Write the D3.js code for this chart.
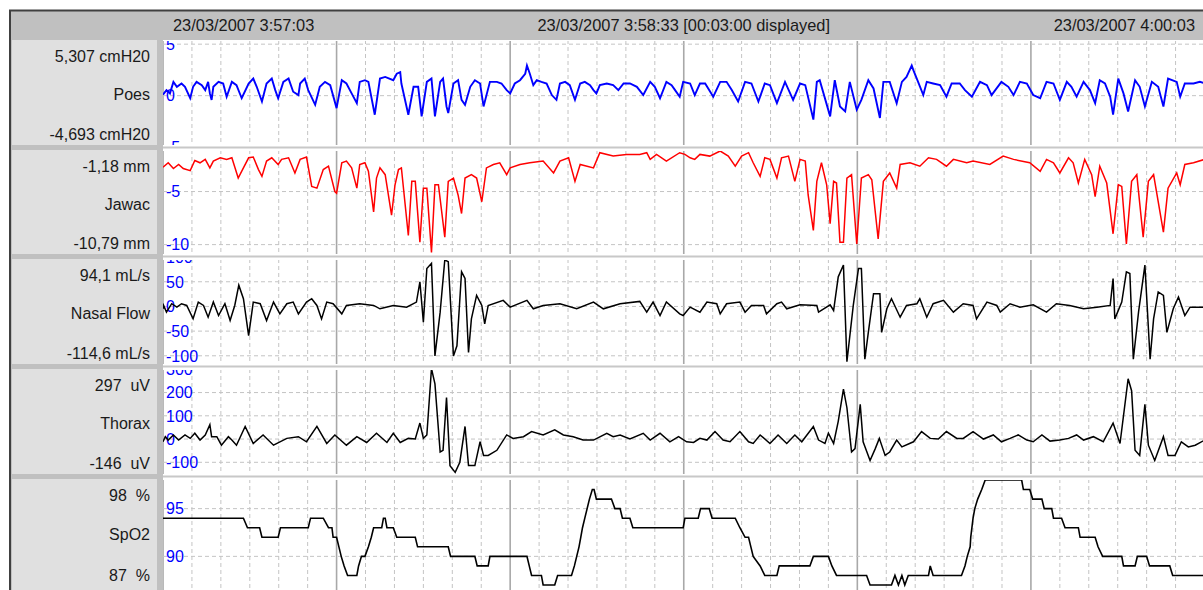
<!DOCTYPE html>
<html><head><meta charset="utf-8">
<script src="https://cdn.jsdelivr.net/npm/d3@7"></script>
<style>
body{margin:0;background:#fff;}
svg{display:block;font-family:"Liberation Sans",Arial,sans-serif;}
</style></head><body>
<svg id="c" width="1203" height="590"></svg>
<script>
// ---------- data ----------
const headerLabels = ["23/03/2007 3:57:03", "23/03/2007 3:58:33 [00:03:00 displayed]", "23/03/2007 4:00:03"];
const headerTimes = [0, 90, 180];
const channels = ["Poes", "Jawac", "Nasal Flow", "Thorax", "SpO2"];
const topLabels = ["5,307 cmH20", "-1,18 mm", "94,1 mL/s", "297  uV", "98  %"];
const bottomLabels = ["-4,693 cmH20", "-10,79 mm", "-114,6 mL/s", "-146  uV", "87  %"];
const domains = [[-4.693, 5.307], [-10.79, -1.18], [-114.6, 94.1], [-146, 297], [87, 98]];
const tickValues = [[5, 0, -5], [-5, -10], [100, 50, 0, -50, -100], [300, 200, 100, 0, -100], [95, 90]];
const timeDomain = [0, 180];   // seconds displayed
const minorStep = 5, majorStep = 30;

const poes = [[0,0.1],[0.6,0.54],[1.2,0.22],[1.8,1.34],[2.4,0.86],[3.2,1.18],[3.8,0.86],[4.7,-0.25],[5.2,0.86],[5.8,1.34],[6.7,1.02],[7.3,0.54],[7.8,1.34],[8.1,0.22],[8.4,-0.41],[8.7,0.86],[9.6,1.34],[10.4,1.18],[11.0,-0.1],[11.9,1.34],[12.7,1.02],[13.6,-0.25],[14.8,1.18],[15.6,1.66],[16.2,0.86],[17.1,-0.57],[17.9,1.18],[18.8,1.66],[19.4,0.54],[19.9,-0.25],[20.8,1.34],[21.7,1.66],[22.5,0.38],[23.4,0.06],[23.7,1.18],[24.5,1.66],[25.1,0.54],[26.3,-0.89],[27.1,0.86],[28.0,1.34],[28.9,1.02],[30.0,-1.21],[30.9,1.5],[31.7,1.18],[32.6,0.22],[33.5,-0.73],[34.0,1.34],[34.9,1.5],[35.5,1.34],[36.6,-1.85],[37.5,1.66],[38.4,1.82],[39.8,1.5],[40.4,2.13],[41.0,2.29],[41.2,1.18],[42.4,-1.85],[43.3,0.86],[44.1,0.86],[44.7,-2.01],[45.6,1.34],[46.4,1.66],[47.0,-2.01],[47.9,1.34],[48.4,1.66],[49.0,-1.05],[49.3,-1.69],[50.2,1.18],[51.0,1.5],[51.6,-0.41],[52.2,-0.89],[53.1,0.86],[53.9,1.5],[54.8,1.18],[55.4,-1.05],[56.5,1.34],[57.7,1.34],[58.5,1.18],[59.4,0.54],[60.0,0.22],[60.8,1.18],[61.7,1.5],[62.6,2.13],[62.9,2.93],[63.4,2.13],[64.0,1.02],[64.6,1.5],[65.4,1.34],[66.3,1.18],[67.2,0.06],[68.0,-0.41],[68.6,1.18],[69.5,1.34],[70.3,1.02],[71.2,-0.41],[72.1,1.18],[72.9,1.34],[73.8,1.02],[74.4,0.54],[74.9,0.22],[75.5,1.02],[76.7,1.18],[77.8,1.02],[78.7,0.54],[79.6,1.18],[80.7,1.18],[81.9,0.86],[83.0,0.06],[84.2,1.34],[85.0,0.86],[85.9,-0.25],[87.0,1.34],[87.9,1.02],[88.5,0.54],[89.3,-0.1],[89.9,1.34],[91.1,1.18],[91.9,0.06],[92.8,1.18],[93.7,1.18],[95.1,-0.1],[96.3,1.34],[97.4,1.34],[98.3,0.54],[99.4,-0.57],[100.6,1.34],[101.7,1.18],[102.9,-0.57],[104.0,1.18],[104.9,1.02],[106.1,-0.73],[107.5,1.34],[108.9,-0.41],[110.1,1.18],[111.0,1.02],[112.4,-2.32],[113.0,1.34],[113.5,1.5],[115.3,-2.01],[116.1,1.5],[117.0,-1.05],[117.9,-1.53],[118.7,1.34],[119.9,-1.37],[120.7,-0.41],[121.9,1.5],[122.8,0.7],[123.9,-2.17],[124.5,1.34],[125.6,1.34],[126.8,-0.73],[127.7,1.34],[128.5,1.82],[129.4,2.93],[129.7,2.45],[130.5,1.34],[131.4,0.06],[132.0,1.34],[133.1,1.18],[134.3,1.02],[135.4,-0.1],[136.3,1.18],[137.7,1.18],[138.6,0.54],[139.8,-0.1],[141.2,1.34],[142.4,1.02],[143.2,0.06],[144.9,1.34],[146.1,0.86],[147.0,0.06],[148.1,1.34],[149.3,1.18],[150.4,0.06],[151.6,-0.25],[152.7,1.34],[153.9,1.18],[155.0,-0.41],[156.2,1.34],[157.0,0.86],[157.9,-0.1],[159.1,1.34],[160.2,0.54],[161.1,-0.73],[161.9,1.5],[162.8,1.18],[163.7,-0.1],[164.2,-1.85],[165.1,1.66],[166.0,0.22],[166.8,-1.53],[168.0,1.5],[168.8,0.86],[169.7,-1.05],[170.9,1.34],[172.0,0.86],[172.9,-1.05],[173.7,1.66],[175.2,1.34],[175.8,-0.1],[176.6,1.18],[178.1,1.18],[179.2,1.34],[180,1.2]];

const jawac = [[0,-2.71],[0.9,-2.29],[1.8,-2.83],[2.7,-2.45],[3.5,-2.83],[4.7,-3.03],[5.5,-2.07],[6.4,-2.29],[7.3,-1.97],[8.1,-2.77],[8.7,-2.13],[9.9,-1.82],[11.0,-1.97],[11.9,-1.82],[13.0,-3.73],[13.9,-2.77],[14.8,-1.82],[15.6,-1.75],[16.5,-2.93],[17.1,-3.57],[17.9,-2.13],[18.8,-1.82],[19.9,-2.45],[20.5,-1.97],[21.7,-1.82],[22.8,-3.25],[23.7,-1.97],[24.8,-1.75],[25.7,-4.52],[26.6,-4.68],[27.7,-2.93],[28.6,-2.61],[29.7,-5.0],[30.0,-5.16],[30.9,-2.29],[31.7,-2.13],[32.6,-2.77],[33.5,-4.68],[34.0,-2.45],[34.9,-2.29],[35.5,-3.09],[36.4,-6.91],[36.9,-3.73],[37.5,-2.77],[38.4,-3.41],[39.5,-7.23],[40.1,-4.36],[40.7,-2.93],[41.2,-2.77],[42.4,-9.14],[43.0,-4.04],[43.6,-4.04],[44.4,-9.78],[45.0,-4.68],[45.6,-4.68],[46.4,-10.73],[47.0,-4.36],[47.6,-4.36],[48.7,-9.3],[49.3,-4.04],[50.2,-3.73],[51.0,-5.32],[51.6,-7.07],[52.2,-3.73],[53.3,-3.41],[54.2,-3.73],[55.1,-5.96],[55.9,-2.77],[57.1,-2.45],[58.2,-2.29],[59.4,-3.41],[60.0,-2.77],[61.7,-2.45],[63.4,-2.29],[65.7,-2.13],[67.5,-3.25],[68.6,-2.13],[70.1,-1.82],[71.2,-4.04],[72.1,-2.45],[74.4,-2.77],[75.5,-1.34],[77.8,-1.66],[80.1,-1.5],[82.4,-1.5],[83.6,-1.34],[84.2,-1.97],[85.3,-1.5],[87.0,-2.13],[89.3,-1.34],[90.2,-1.5],[91.1,-1.82],[91.9,-1.97],[92.8,-1.5],[94.5,-1.66],[96.3,-1.18],[97.7,-1.66],[98.9,-2.61],[100.0,-1.66],[101.2,-1.34],[102.0,-2.29],[103.2,-3.57],[104.0,-1.82],[104.9,-1.97],[106.1,-3.73],[106.9,-1.82],[108.1,-1.66],[109.2,-4.04],[110.1,-1.97],[111.0,-2.13],[111.5,-5.32],[112.4,-8.66],[113.0,-4.04],[113.8,-2.29],[114.7,-4.36],[115.3,-8.03],[115.9,-4.04],[116.4,-4.2],[117.0,-9.78],[117.6,-9.78],[118.2,-3.73],[119.0,-3.41],[119.9,-9.94],[120.7,-3.73],[121.9,-3.41],[122.5,-3.89],[123.6,-9.46],[124.5,-4.04],[125.6,-3.25],[126.8,-4.68],[127.4,-2.45],[129.1,-2.29],[130.8,-2.61],[132.3,-1.82],[133.7,-1.97],[135.4,-2.61],[136.6,-1.97],[138.9,-2.29],[140.0,-2.13],[142.9,-2.45],[145.2,-1.66],[147.0,-1.97],[149.8,-2.29],[151.6,-3.09],[152.7,-1.97],[153.9,-2.29],[155.0,-3.25],[156.5,-1.82],[157.3,-2.29],[158.2,-4.2],[159.3,-1.97],[160.5,-3.41],[161.1,-5.48],[161.9,-2.61],[163.1,-4.2],[164.2,-8.98],[165.1,-4.36],[165.7,-4.52],[166.5,-9.94],[167.4,-4.04],[168.3,-3.41],[169.4,-9.3],[170.3,-4.04],[171.2,-3.41],[172.9,-8.82],[173.7,-4.68],[175.2,-3.25],[175.8,-4.36],[176.6,-2.45],[178.1,-2.29],[180,-1.97]];

const nasalFlow = [[0,-4.8],[0.1,2],[0.6,-11.6],[1.5,5.5],[2.4,-1.4],[3.2,5.5],[4.1,2],[5.2,-25],[6.1,8.9],[7.0,2],[7.8,-21.8],[8.7,8.9],[9.6,-18.4],[10.7,5.5],[11.6,-28.6],[12.4,2],[13.1,43],[13.9,15.7],[14.8,-59.3],[15.6,8.9],[16.8,5.5],[17.9,-28.6],[19.1,8.9],[20.2,-15],[21.4,5.5],[22.5,8.9],[23.4,-15],[24.8,8.9],[25.7,15.7],[26.6,2],[27.4,-25.2],[28.3,8.9],[29.4,5.5],[30.9,-15],[31.7,2],[34.0,5.5],[36.4,2],[37.5,-4.8],[39.8,2],[42.1,-1.4],[43.8,8.9],[44.4,49.8],[45.0,-32],[45.6,77],[46.4,87.3],[47.0,-100.3],[47.9,-11.6],[48.7,94.1],[49.3,90.7],[50.2,-100.3],[50.8,-79.8],[51.6,70.2],[52.2,56.6],[52.8,-93.4],[53.3,-25.2],[54.2,22.5],[55.1,2],[55.6,-35.5],[56.2,2],[58.8,12.3],[60.0,-1.4],[62.9,12.3],[64.0,-4.8],[65.7,2],[68.6,5.5],[71.5,-4.8],[74.4,8.9],[76.1,-4.8],[79.0,5.5],[82.4,10.2],[83.6,-11.6],[84.7,8.9],[85.9,-18.4],[87.0,8.9],[89.3,-15],[89.9,-18.4],[91.1,-1.4],[92.8,-11.6],[94.0,8.9],[95.7,5.5],[96.3,-15],[97.4,5.5],[99.7,8.9],[100.6,-11.6],[101.7,2],[103.8,2],[104.3,-15],[106.1,5.5],[106.9,8.9],[107.8,-4.8],[110.1,3.4],[113.0,2],[113.3,-11.6],[115.3,3.4],[115.9,-8.2],[116.7,60],[117.6,83.9],[118.2,-112],[119.3,2],[120.2,77],[120.7,77],[121.3,-107],[121.9,-52.5],[122.8,25.9],[123.9,25.9],[124.2,-52.5],[125.1,-4.8],[125.9,15.7],[127.4,-21.8],[128.5,2],[130.3,5.5],[130.8,15.7],[132.0,-21.8],[133.1,5.5],[134.9,12.3],[136.6,-11.6],[138.3,5.5],[140.0,2],[140.6,-25.2],[142.4,8.9],[144.1,2],[144.7,-11.6],[146.4,5.5],[148.1,-1.4],[150.4,3.4],[152.7,-11.6],[154.4,5.5],[156.7,2],[159.1,-4.8],[161.4,-1.4],[163.7,2],[164.2,56.6],[164.5,-25.2],[165.7,8.9],[166.5,70.2],[167.1,66.8],[167.7,-107],[168.6,-11.6],[169.7,83.9],[170.6,-107],[171.2,-25.2],[172.0,29.3],[172.9,22.5],[173.5,-52.5],[174.6,-4.8],[175.5,19.1],[176.6,-18.4],[177.5,-1.4],[180,-1.4]];

const thorax = [[0,-11.7],[0.4,10.2],[0.9,-4.4],[1.8,17.6],[2.7,-4.4],[3.8,17.6],[4.7,2.9],[5.5,24.9],[6.4,-4.4],[7.3,17.6],[8.1,61.5],[8.4,10.2],[9.3,10.2],[10.1,-26.4],[11.3,10.2],[11.9,-4.4],[12.7,-26.4],[14.2,54.2],[15.6,-19],[17.3,17.6],[19.1,-26.4],[21.4,2.9],[23.4,10.2],[24.8,-11.7],[26.6,54.2],[28.3,-19],[29.7,17.6],[31.7,-26.4],[33.5,10.2],[35.2,-14.6],[36.9,24.9],[38.7,-14.6],[39.8,24.9],[41.0,-14.6],[42.4,2.9],[43.6,0],[44.4,68.8],[45.0,2.9],[45.6,17.6],[46.4,303],[47.0,237],[47.9,-55.6],[48.4,-48.3],[49.0,178.6],[49.6,-114.2],[50.5,-143.5],[51.3,-99.6],[52.2,54.2],[52.8,-114.2],[53.9,-114.2],[54.8,-11.7],[55.4,-70.3],[56.2,-70.3],[57.7,-48.3],[59.4,17.6],[60.5,2.9],[62.3,10.2],[63.7,32.2],[65.7,17.6],[67.7,39.5],[69.2,17.6],[70.9,10.2],[72.6,-4.4],[74.4,-4.4],[76.7,24.9],[77.8,10.2],[79.0,17.6],[80.7,0],[83.0,24.9],[84.2,-4.4],[85.9,24.9],[87.6,-11.7],[89.1,10.2],[90.5,-11.7],[91.7,-14.6],[92.8,2.9],[94.0,-4.4],[95.4,32.2],[96.8,-4.4],[98.0,-11.7],[99.7,32.2],[101.2,-11.7],[102.0,-19],[103.2,17.6],[104.9,-19],[106.3,17.6],[107.8,-19],[109.2,17.6],[110.4,-11.7],[112.4,54.2],[113.3,-4.4],[114.4,-19],[115.0,24.9],[115.9,-19],[116.7,76.1],[117.6,215.2],[118.2,134.7],[119.0,-55.6],[119.6,-41],[120.5,149.3],[121.0,-11.7],[122.2,-92.2],[123.1,-41],[123.8,2.9],[124.8,-70.3],[125.6,-55.6],[126.8,-4.4],[127.7,-33.7],[129.7,-11.7],[131.1,32.2],[132.6,2.9],[134.0,0],[135.4,32.2],[137.2,2.9],[138.3,2.9],[140.0,32.2],[141.8,0],[143.5,17.6],[144.9,-11.7],[146.4,2.9],[147.8,17.6],[149.3,-4.4],[150.4,-11.7],[151.9,17.6],[153.3,-8.8],[155.0,-4.4],[156.5,2.9],[157.9,17.6],[159.1,-4.4],[160.8,10.2],[162.5,-11.7],[164.2,68.8],[165.4,-19],[166.8,259],[167.4,207.9],[168.0,-48.3],[168.8,-70.3],[169.7,149.3],[170.3,-26.4],[171.4,-92.2],[172.9,10.2],[173.7,-70.3],[174.9,-70.3],[176.0,-11.7],[177.2,-33.7],[178.4,-26.4],[180,-5]];

const spo2 = [[0,94],[13.9,94],[14.6,93],[16.7,93],[17.1,92],[19.9,92],[20.3,93],[25.1,93],[25.5,94],[27.7,94],[28.6,93],[29.2,93],[29.4,92],[30.0,92],[30.4,91],[30.8,90],[31.3,89],[31.9,88],[33.5,88],[33.8,89],[34.3,90],[34.9,90],[35.5,91],[36.0,92],[36.4,93],[37.8,93],[38.1,94],[38.4,94],[38.7,93],[39.8,93],[40.4,92],[43.6,92],[44.0,91],[49.3,91],[49.7,90],[53.9,90],[54.3,89],[56.2,89],[56.5,90],[62.9,90],[63.3,89],[63.7,88],[65.4,88],[65.7,87],[67.7,87],[68.2,88],[70.6,88],[71.1,89],[71.5,90],[71.9,91],[72.2,92],[72.5,93],[72.9,94],[73.3,95],[73.7,96],[74.2,97],[74.5,97],[74.9,96],[77.5,96],[78.1,95],[79.0,95],[79.4,94],[80.7,94],[81.2,93],[89.9,93],[90.2,94],[92.5,94],[92.9,95],[94.4,95],[94.9,94],[98.9,94],[99.7,93],[100.6,92],[101.2,92],[101.6,91],[102.0,90],[103.2,89],[104.0,88],[106.1,88],[106.5,89],[111.8,89],[112.4,90],[115.0,90],[115.6,89],[116.4,88],[121.6,88],[122.2,87],[125.9,87],[126.5,88],[127.1,87],[127.7,88],[128.2,87],[128.8,88],[132.3,88],[132.6,89],[133.1,88],[138.0,88],[138.6,89],[139.0,90],[139.5,91],[139.6,92],[139.8,93],[140.0,94],[140.3,95],[140.8,96],[141.5,97],[142.1,98],[148.4,98],[148.7,97],[149.8,97],[150.3,96],[151.9,96],[152.3,95],[153.6,95],[153.9,94],[155.3,94],[155.9,93],[158.2,93],[158.5,92],[161.1,92],[161.6,91],[162.4,90],[165.7,90],[166.0,89],[168.0,89],[168.4,90],[170.0,90],[170.5,89],[174.0,89],[174.5,88],[180,88]];

const series = [poes, jawac, nasalFlow, thorax, spo2];

// ---------- layout / style ----------
const W = 1203, H = 590;
const plotLeft = 163, plotRight = 1203;
const boxes = [[40,145],[150,254],[259,364],[369,474],[479,590]];
const ranges = [[144,41],[253,151],[363,260],[473,370],[585,480]];
const colors = ["#0000ff","#ff0000","#000000","#000000","#000000"];
const widths = [1.9,1.5,1.5,1.5,1.6];

const svg = d3.select("#c");
const x = d3.scaleLinear().domain(timeDomain).range([plotLeft, 1204.5]);

svg.append("rect").attr("width",W).attr("height",H).attr("fill","#fff");
// frame
svg.append("rect").attr("x",10).attr("y",10).attr("width",W-10).attr("height",H-10).attr("fill","#c0c0c0");
svg.append("line").attr("x1",9).attr("x2",W).attr("y1",10.5).attr("y2",10.5).attr("stroke","#404040").attr("stroke-width",2);
svg.append("line").attr("x1",10).attr("x2",10).attr("y1",10).attr("y2",H).attr("stroke","#404040").attr("stroke-width",2);

// header texts
const hdr = svg.append("g").attr("font-size","16.4px").attr("fill","#1a1a1a");
headerLabels.forEach((s,i)=>{
  const anchor = i===0?"start":(i===1?"middle":"end");
  const xx = i===0 ? x(headerTimes[0])+10 : (i===1 ? x(headerTimes[1]) : 1195);
  hdr.append("text").attr("x",xx).attr("y",25).attr("dy","0.35em").attr("text-anchor",anchor).text(s);
});

// label column + plot panels
channels.forEach((name,i)=>{
  const [y0,y1] = boxes[i];
  svg.append("rect").attr("x",12).attr("y",y0).attr("width",145).attr("height",y1-y0).attr("fill","#e0e0e0");
  svg.append("rect").attr("x",plotLeft).attr("y",y0).attr("width",plotRight-plotLeft).attr("height",y1-y0).attr("fill","#fff");
});
// thin white gaps above panels in plot area
for (let i=1;i<boxes.length;i++){
  const g0 = boxes[i-1][1], g1 = boxes[i][0];
  svg.append("rect").attr("x",plotLeft).attr("y",g0).attr("width",plotRight-plotLeft).attr("height",g1-g0).attr("fill","#fff");
  svg.append("line").attr("x1",plotLeft).attr("x2",plotRight).attr("y1",(g0+g1)/2).attr("y2",(g0+g1)/2)
     .attr("stroke","#c8c8c8").attr("stroke-width",2);
}

const defs = svg.append("defs");
const lineGen = d3.line();

channels.forEach((name,i)=>{
  const [y0,y1] = boxes[i];
  const y = d3.scaleLinear().domain(domains[i]).range(ranges[i]);
  const cid = "clip"+i;
  defs.append("clipPath").attr("id",cid).append("rect")
     .attr("x",plotLeft).attr("y",y0+1).attr("width",plotRight-plotLeft).attr("height",y1-y0-1);
  const g = svg.append("g").attr("clip-path",`url(#${cid})`);

  // vertical grid (time)
  const ticks = d3.range(timeDomain[0], timeDomain[1]+0.001, minorStep);
  ticks.forEach(t=>{
    const major = t % majorStep === 0;
    g.append("line").attr("x1",x(t)).attr("x2",x(t)).attr("y1",y0).attr("y2",y1)
      .attr("stroke", major ? "#a8a8a8" : "#c4c4c4")
      .attr("stroke-width", major ? 1.6 : 1)
      .attr("stroke-dasharray", major ? null : "4,3");
  });
  // horizontal grid (values)
  tickValues[i].forEach(v=>{
    if (v >= domains[i][0] && v <= domains[i][1]) {
      g.append("line").attr("x1",plotLeft).attr("x2",plotRight).attr("y1",y(v)).attr("y2",y(v))
        .attr("stroke","#c4c4c4").attr("stroke-width",1).attr("stroke-dasharray","4,3");
    }
  });
  // tick labels
  tickValues[i].forEach(v=>{
    g.append("text").attr("x",plotLeft+3).attr("y",y(v)).attr("dy","0.36em")
      .attr("font-size","16px").attr("fill","#0000ff").text(v);
  });
  // trace
  lineGen.x(d=>x(d[0])).y(d=>y(d[1]));
  g.append("path").attr("d",lineGen(series[i])).attr("fill","none")
    .attr("stroke",colors[i]).attr("stroke-width",widths[i]).attr("stroke-linejoin","miter");

  // labels in left column
  const lab = svg.append("g").attr("font-size","16px").attr("fill","#1a1a1a").attr("text-anchor","end");
  const yt = ranges[i][1], yb = ranges[i][0];
  lab.append("text").attr("x",150).attr("y",yt+15).attr("dy","0.35em").style("white-space","pre").text(topLabels[i]);
  lab.append("text").attr("x",150).attr("y",(yt+yb)/2+2).attr("dy","0.35em").text(name);
  lab.append("text").attr("x",150).attr("y",yb-10).attr("dy","0.35em").style("white-space","pre").text(bottomLabels[i]);
});
</script>
</body></html>
